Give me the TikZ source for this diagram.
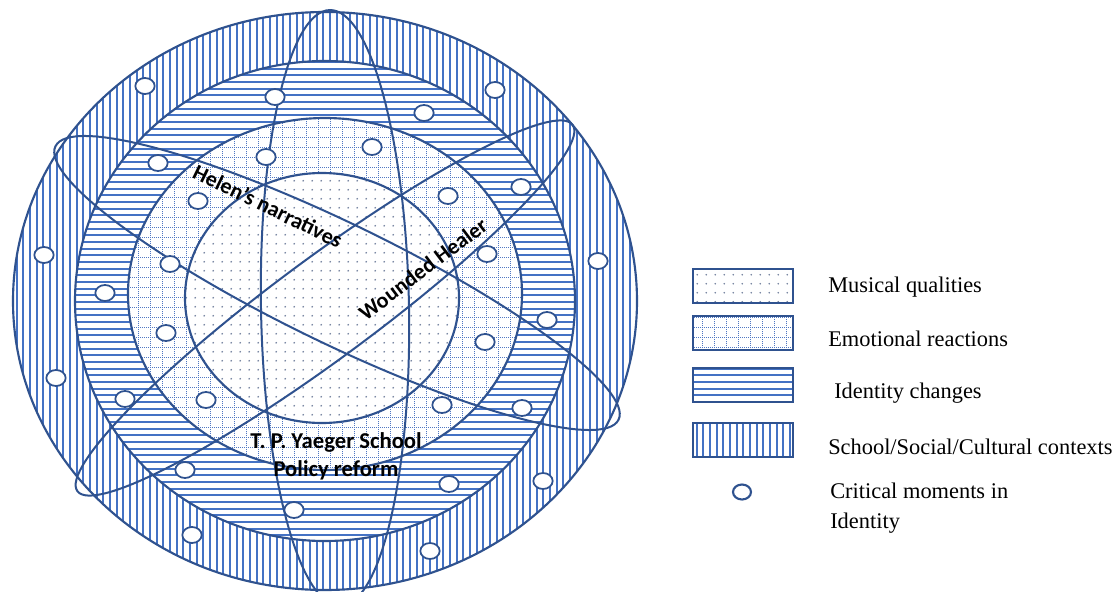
\documentclass[tikz,border=0pt]{standalone}
\usepackage{fontspec}
\setmainfont{Liberation Serif}
\newfontfamily\lblfont{Carlito}
\usetikzlibrary{patterns,shapes.geometric}

\definecolor{edge}{RGB}{47,82,143}
\definecolor{stripe}{RGB}{68,114,196}
\definecolor{gridc}{RGB}{80,120,195}
\definecolor{dotc}{RGB}{110,125,155}

\pgfdeclarepatternformonly{vstripes}{\pgfqpoint{0pt}{-1pt}}{\pgfqpoint{5pt}{6pt}}{\pgfqpoint{5pt}{5pt}}{%
  \pgfsetlinewidth{1.5pt}%
  \pgfpathmoveto{\pgfqpoint{2.5pt}{-1pt}}%
  \pgfpathlineto{\pgfqpoint{2.5pt}{6pt}}%
  \pgfusepath{stroke}}
\pgfdeclarepatternformonly{hstripes}{\pgfqpoint{-1pt}{0pt}}{\pgfqpoint{6pt}{5pt}}{\pgfqpoint{5pt}{5pt}}{%
  \pgfsetlinewidth{1.5pt}%
  \pgfpathmoveto{\pgfqpoint{-1pt}{2.5pt}}%
  \pgfpathlineto{\pgfqpoint{6pt}{2.5pt}}%
  \pgfusepath{stroke}}
\pgfdeclarepatternformonly{dgrid}{\pgfqpoint{-0.5pt}{-0.5pt}}{\pgfqpoint{9.5pt}{8pt}}{\pgfqpoint{9pt}{7.5pt}}{%
  \pgfsetlinewidth{0.7pt}%
  \pgfsetdash{{0.7pt}{0.8pt}}{0pt}%
  \pgfpathmoveto{\pgfqpoint{4.5pt}{0pt}}\pgfpathlineto{\pgfqpoint{4.5pt}{7.5pt}}%
  \pgfpathmoveto{\pgfqpoint{0pt}{3.75pt}}\pgfpathlineto{\pgfqpoint{9pt}{3.75pt}}%
  \pgfusepath{stroke}}
\pgfdeclarepatternformonly{sdots}{\pgfqpoint{0pt}{0pt}}{\pgfqpoint{6.5pt}{6.5pt}}{\pgfqpoint{6.5pt}{6.5pt}}{%
  \pgfpathcircle{\pgfqpoint{3.25pt}{3.25pt}}{0.7pt}\pgfusepath{fill}}

\tikzset{
  ring/.style={draw=edge, line width=1.6pt},
  bigell/.style={draw=edge, line width=1.5pt},
  moment/.style={ellipse, draw=edge, fill=white, line width=1.3pt,
    minimum width=14.5pt, minimum height=12pt, inner sep=0pt},
  lab/.style={font=\lblfont\bfseries\fontsize{16.5}{21}\selectfont, text=black, inner sep=0pt},
  legtext/.style={font=\fontsize{16.8}{22.5}\selectfont, anchor=west, inner sep=0pt, text=black},
  legbox/.style={draw=edge, line width=2pt, minimum width=75pt, minimum height=25.5pt,
    inner sep=0pt, preaction={fill=white}},
  pv/.style={pattern=vstripes, pattern color=stripe},
  ph/.style={pattern=hstripes, pattern color=stripe},
  pg/.style={pattern=dgrid, pattern color=gridc},
  pd/.style={pattern=sdots, pattern color=dotc}
}

\begin{document}
\begin{tikzpicture}[x=0.75pt, y=-0.75pt]
\useasboundingbox (0,0) rectangle (1115,592);
\fill[white] (0,0) rectangle (1115,592);
\clip (0,0) rectangle (1115,592);

% rings
\fill[white] (325,301) ellipse [x radius=312, y radius=289];
\fill[pv] (325,301) ellipse [x radius=312, y radius=289];
\draw[ring] (325,301) ellipse [x radius=312, y radius=289];

\fill[white] (325,301) ellipse [x radius=250, y radius=240];
\fill[ph] (325,301) ellipse [x radius=250, y radius=240];
\draw[ring] (325,301) ellipse [x radius=250, y radius=240];

\fill[white] (325,294) ellipse [x radius=197, y radius=176];
\fill[pg] (325,294) ellipse [x radius=197, y radius=176];
\draw[ring] (325,294) ellipse [x radius=197, y radius=176];

\fill[white] (322,298) ellipse [x radius=137, y radius=125];
\fill[pd] (322,298) ellipse [x radius=137, y radius=125];
\draw[ring] (322,298) ellipse [x radius=137, y radius=125];

% big ellipses
\draw[bigell, rotate around={1:(335,308)}] (335,308) ellipse [x radius=74, y radius=298];
\draw[bigell, rotate around={-25.9:(337,283)}] (337,283) ellipse [x radius=313, y radius=60];
\draw[bigell, rotate around={36.5:(325,308)}] (325,308) ellipse [x radius=308, y radius=50];

% critical moments
\node[moment] (m1) at (145,86) {};
\node[moment] (m2) at (275,97) {};
\node[moment] (m3) at (495,90) {};
\node[moment] (m4) at (424,113) {};
\node[moment] (m5) at (158,163) {};
\node[moment] (m6) at (266,157) {};
\node[moment] (m7) at (372,147) {};
\node[moment] (m8) at (198,201) {};
\node[moment] (m9) at (448,196) {};
\node[moment] (m10) at (521,187) {};
\node[moment] (m11) at (44,255) {};
\node[moment] (m12) at (170,264) {};
\node[moment] (m13) at (487,254) {};
\node[moment] (m14) at (598,261) {};
\node[moment] (m15) at (105,293) {};
\node[moment] (m16) at (547,320) {};
\node[moment] (m17) at (166,333) {};
\node[moment] (m18) at (485,342) {};
\node[moment] (m19) at (56,378) {};
\node[moment] (m20) at (125,399) {};
\node[moment] (m21) at (206,400) {};
\node[moment] (m22) at (442,405) {};
\node[moment] (m23) at (522,408) {};
\node[moment] (m24) at (185,470) {};
\node[moment] (m25) at (449,484) {};
\node[moment] (m26) at (543,481) {};
\node[moment] (m27) at (294,510) {};
\node[moment] (m28) at (192,535) {};
\node[moment] (m29) at (430,551) {};

% labels
\node[lab, rotate=-26] (helen) at (268,206) {Helen’s narratives};
\node[lab, rotate=37] (healer) at (423,269) {Wounded Healer};
\node[lab, align=center, font=\lblfont\bfseries\fontsize{17}{21}\selectfont] (school) at (336,456) {T. P. Yaeger School\\Policy reform};

% legend
\node[legbox, pd] (k1) at (743,286) {};
\node[legbox, pg] (k2) at (743,333) {};
\node[legbox, ph] (k3) at (743,385) {};
\node[legbox, pv] (k4) at (743,440) {};
\node[moment, line width=1.6pt, minimum width=13.5pt, minimum height=11.25pt] (k5) at (742,492) {};

\node[legtext] (t1) at (828,287) {Musical qualities};
\node[legtext] (t2) at (828,339) {Emotional reactions};
\node[legtext] (t3) at (834,393) {Identity changes};
\node[legtext] (t4) at (828,447) {School/Social/Cultural contexts};
\node[legtext, align=left] (t5) at (830,508) {Critical moments in\\Identity};
\end{tikzpicture}
\end{document}
